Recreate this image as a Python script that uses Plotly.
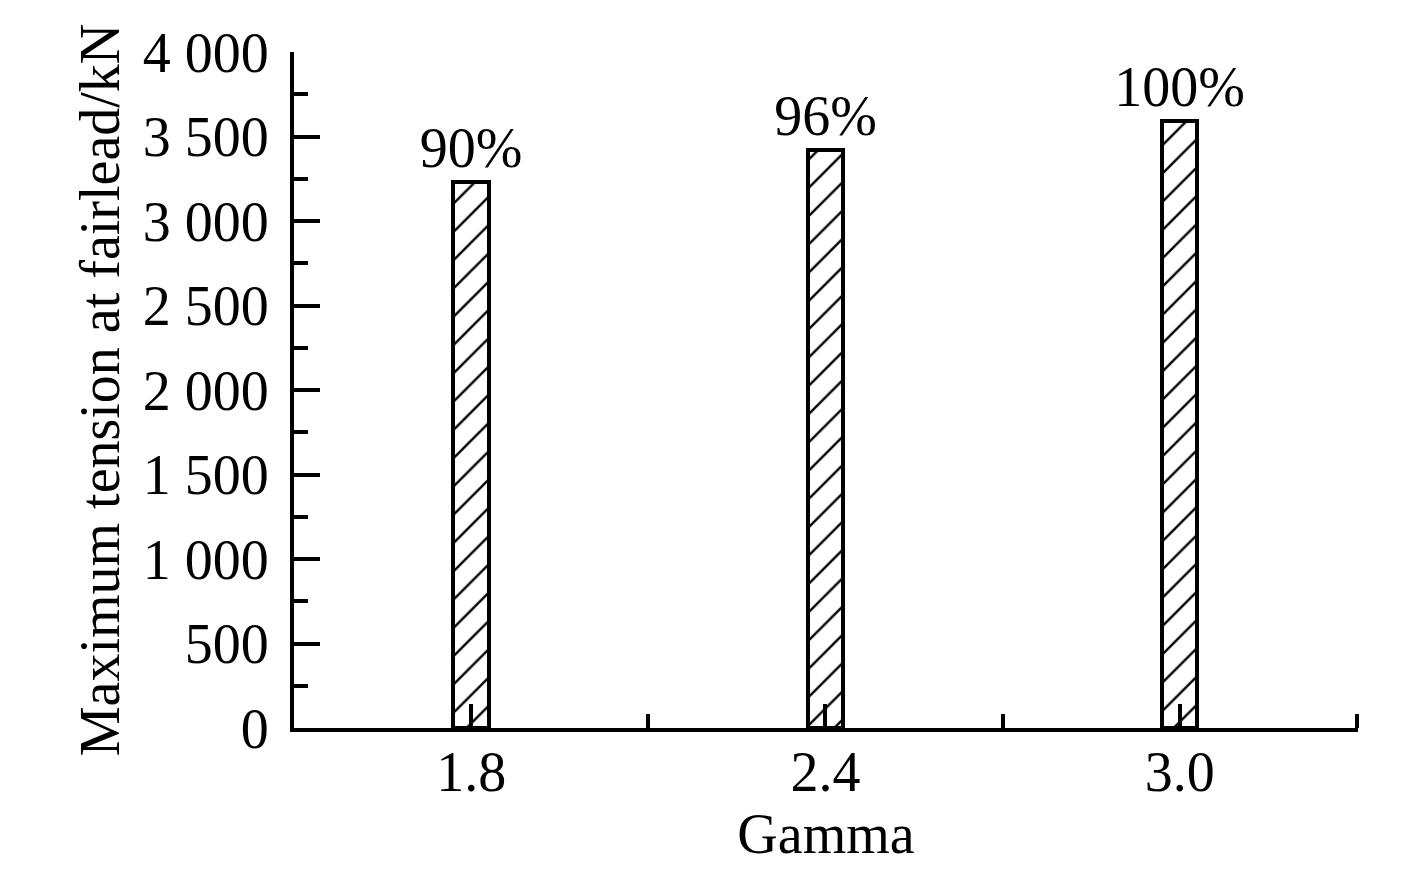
import plotly.graph_objects as go

gamma = [1.8, 2.4, 3.0]
max_tension = [3230, 3420, 3590]
ratio_labels = ["90%", "96%", "100%"]

y_tick_vals = [0, 500, 1000, 1500, 2000, 2500, 3000, 3500, 4000]
y_tick_text = ["0", "500", "1 000", "1 500", "2 000", "2 500", "3 000", "3 500", "4 000"]

font_family = "Liberation Serif, Times New Roman, serif"

fig = go.Figure(go.Bar(
    x=gamma,
    y=max_tension,
    width=0.06,
    text=ratio_labels,
    textposition="outside",
    constraintext="none",
    cliponaxis=False,
    textfont=dict(family=font_family, size=56, color="black"),
    marker=dict(
        color="white",
        line=dict(color="black", width=4),
        pattern=dict(shape="/", fgcolor="black", bgcolor="white", fgopacity=1, size=20, solidity=0.12),
    ),
))

fig.update_layout(
    width=1417,
    height=876,
    margin=dict(l=294, r=59, t=52, b=148),
    plot_bgcolor="white",
    paper_bgcolor="white",
    font=dict(family=font_family, size=56, color="black"),
    showlegend=False,
    bargap=0,
)

fig.update_xaxes(
    range=[1.5, 3.302],
    tickvals=gamma,
    ticktext=[f"{g:.1f}" for g in gamma],
    ticks="inside",
    ticklen=24,
    tickwidth=4,
    tickcolor="black",
    minor=dict(tickvals=[2.1, 2.7, 3.3], ticks="inside", ticklen=14, tickwidth=4, tickcolor="black", showgrid=False),
    showline=True,
    linecolor="black",
    linewidth=4,
    showgrid=False,
    zeroline=False,
    ticklabelstandoff=-8,
    title=dict(text="Gamma", standoff=0, font=dict(size=56)),
)

fig.update_yaxes(
    range=[0, 4000],
    tickvals=y_tick_vals,
    ticktext=y_tick_text,
    ticks="inside",
    ticklen=26,
    tickwidth=4,
    tickcolor="black",
    minor=dict(tick0=250, dtick=500, ticks="inside", ticklen=14, tickwidth=4, tickcolor="black", showgrid=False),
    showline=True,
    linecolor="black",
    linewidth=4,
    showgrid=False,
    zeroline=False,
    ticklabelstandoff=10,
    title=dict(text="Maximum tension at fairlead/kN", standoff=6, font=dict(size=56)),
)

fig.write_html("out.html", config={"displayModeBar": False},
               post_script="document.body.style.margin='0';")
